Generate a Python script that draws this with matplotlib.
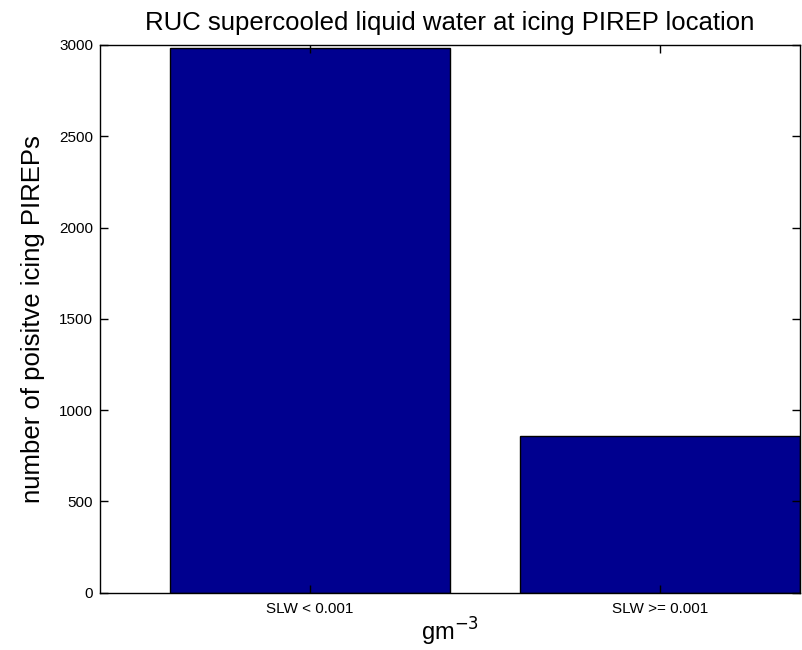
import matplotlib
matplotlib.use("Agg")
import matplotlib.pyplot as plt

categories = ["SLW < 0.001", "SLW >= 0.001"]
counts = [2985, 860]
positions = [1, 2]
y_ticks = [0, 500, 1000, 1500, 2000, 2500, 3000]

plt.rcParams["font.family"] = ["Liberation Sans", "DejaVu Sans"]

fig = plt.figure(figsize=(8.02, 6.5), dpi=100)
ax = fig.add_axes([100 / 802, 57.5 / 650, 700 / 802, 547.5 / 650])

ax.bar(positions, counts, width=0.8, color="#00008F", edgecolor="black", linewidth=1)

ax.set_xlim(0.4, 2.4)
ax.set_ylim(0, 3000)
ax.set_xticks(positions)
ax.set_xticklabels(categories)
ax.set_yticks(y_ticks)

ax.tick_params(direction="in", top=True, right=True, length=6, width=1,
               labelsize=11)
ax.tick_params(axis="y", pad=5)
ax.tick_params(axis="x", pad=7)
for sp in ax.spines.values():
    sp.set_linewidth(1)

ax.set_title("RUC supercooled liquid water at icing PIREP location",
             fontsize=18.5, pad=11)
ax.set_ylabel("number of poisitve icing PIREPs", fontsize=18.5, labelpad=10)
ax.set_xlabel("gm$^{-3}$", fontsize=17, labelpad=0)

fig.savefig("out.png", dpi=100)
